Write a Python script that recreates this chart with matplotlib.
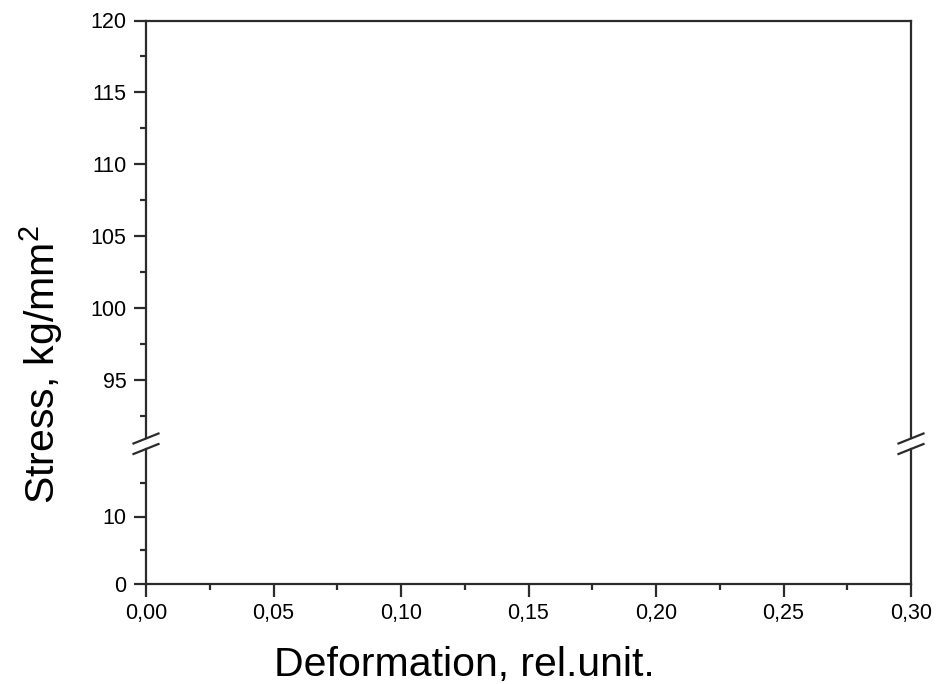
import numpy as np
import matplotlib
matplotlib.use("Agg")
import matplotlib.pyplot as plt
from matplotlib.lines import Line2D

plt.rcParams['font.family'] = ['Liberation Sans', 'DejaVu Sans']
plt.rcParams['mathtext.fontset'] = 'custom'
plt.rcParams['mathtext.rm'] = 'Liberation Sans'
plt.rcParams['mathtext.it'] = 'Liberation Sans'

# axis data
x_lim = [0.0, 0.30]
x_major = [0.00, 0.05, 0.10, 0.15, 0.20, 0.25, 0.30]
x_labels = ["0,00", "0,05", "0,10", "0,15", "0,20", "0,25", "0,30"]
x_minor = [0.025, 0.075, 0.125, 0.175, 0.225, 0.275]

upper_lim = [91, 120]
upper_major = [95, 100, 105, 110, 115, 120]
upper_minor = [92.5, 97.5, 102.5, 107.5, 112.5, 117.5]

lower_lim = [0, 20]
lower_major = [0, 10]
lower_minor = [5, 15]

W, H = 939, 684
col = "#2b2b2b"
lw = 1.6

fig = plt.figure(figsize=(W / 100, H / 100), dpi=100)
left, right = 146 / W, 911 / W
ax_up = fig.add_axes([left, 1 - 438 / H, right - left, (438 - 20.5) / H])
ax_lo = fig.add_axes([left, 1 - 584 / H, right - left, (584 - 449) / H])

for ax in (ax_up, ax_lo):
    ax.set_xlim(x_lim)
    for s in ax.spines.values():
        s.set_linewidth(lw)
        s.set_color(col)
    ax.tick_params(which="major", direction="out", length=9, width=lw, color=col,
                   labelsize=15.5, pad=5, right=False, top=False)
    ax.tick_params(which="minor", direction="out", length=4.5, width=lw, color=col,
                   right=False, top=False)

ax_up.set_ylim(upper_lim)
ax_up.set_yticks(upper_major)
ax_up.set_yticks(upper_minor, minor=True)
ax_up.spines["bottom"].set_visible(False)
ax_up.tick_params(axis="x", which="both", bottom=False, labelbottom=False)

ax_lo.set_ylim(lower_lim)
ax_lo.set_yticks(lower_major)
ax_lo.set_yticks(lower_minor, minor=True)
ax_lo.spines["top"].set_visible(False)
ax_lo.set_xticks(x_major)
ax_lo.set_xticklabels(x_labels)
ax_lo.set_xticks(x_minor, minor=True)

# break marks
for xc in (146, 911):
    for yc in (438.5, 449):
        fig.add_artist(Line2D([(xc - 12.5) / W, (xc + 12.5) / W],
                              [1 - (yc + 5) / H, 1 - (yc - 5) / H],
                              color=col, lw=lw))

fig.text(464 / W, 1 - 676 / H, "Deformation, rel.unit.", fontsize=29.5,
         ha="center", va="baseline")
fig.text(55 / W, 1 - 365 / H, "Stress, kg/mm$^2$", fontsize=29.5, rotation=90,
         rotation_mode="anchor", ha="center", va="baseline")

fig.savefig("out.png", dpi=100)
